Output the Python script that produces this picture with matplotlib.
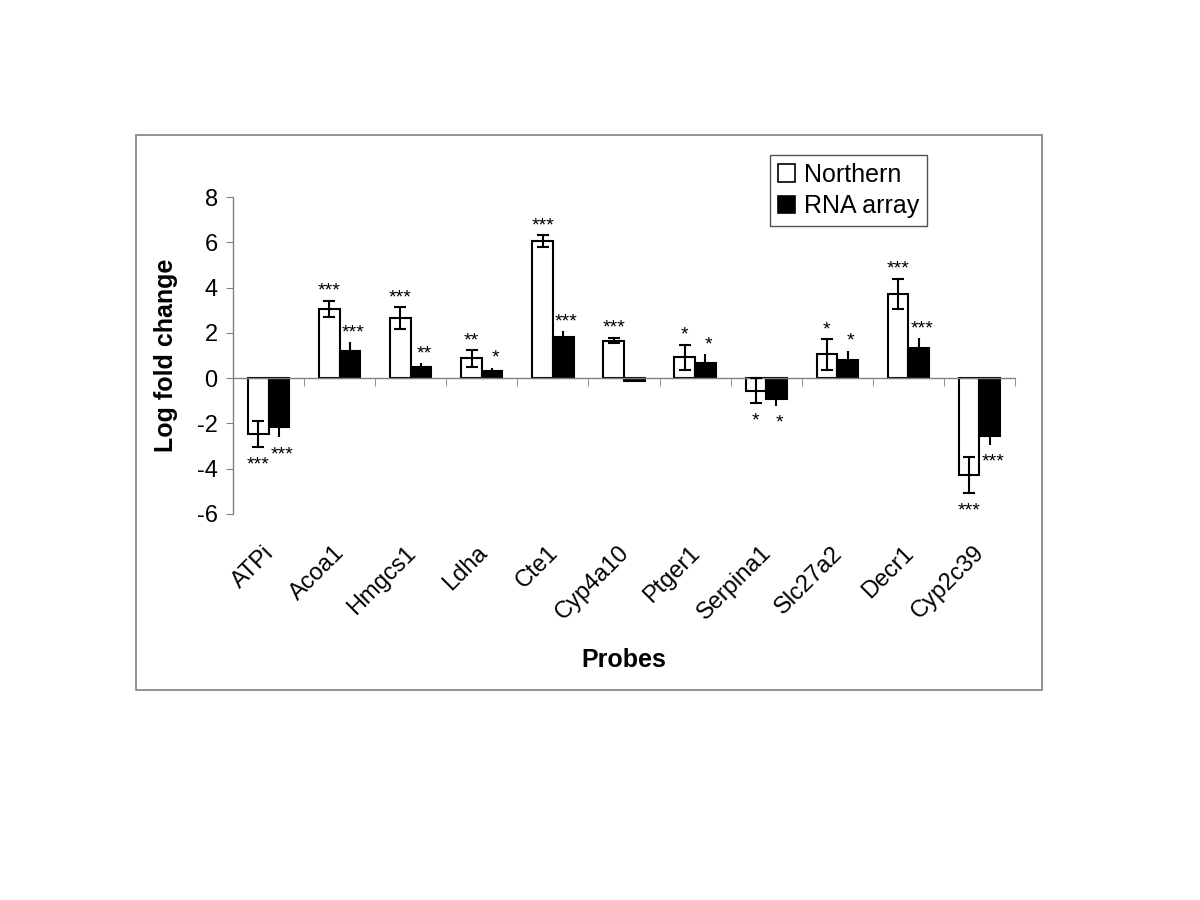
import matplotlib.pyplot as plt
import numpy as np
from matplotlib.patches import Rectangle, Patch

plt.rcParams['font.family'] = ['Liberation Sans', 'DejaVu Sans']
plt.rcParams['axes.unicode_minus'] = False

# Probe names and log fold changes
probes = ['ATPi', 'Acoa1', 'Hmgcs1', 'Ldha', 'Cte1', 'Cyp4a10', 'Ptger1',
          'Serpina1', 'Slc27a2', 'Decr1', 'Cyp2c39']
northern = [-2.48, 3.05, 2.65, 0.87, 6.05, 1.66, 0.93, -0.56, 1.05, 3.72, -4.28]
northern_err = [0.57, 0.37, 0.48, 0.37, 0.25, 0.12, 0.55, 0.55, 0.68, 0.66, 0.80]
rna = [-2.15, 1.22, 0.50, 0.31, 1.80, -0.12, 0.66, -0.92, 0.78, 1.32, -2.57]
rna_err = [0.45, 0.37, 0.17, 0.15, 0.26, 0.05, 0.40, 0.30, 0.44, 0.44, 0.38]
northern_sig = ['***', '***', '***', '**', '***', '***', '*', '*', '*', '***', '***']
rna_sig = ['***', '***', '**', '*', '***', '', '*', '*', '*', '***', '***']

x = np.arange(len(probes))
width = 0.29
grey = '#808080'

fig = plt.figure(figsize=(12, 9), dpi=100)
ax = fig.add_axes([233/1200, 1 - 514/900, (1015 - 233)/1200, (514 - 197)/900])

# outer chart frame
fig.patches.append(Rectangle((136/1200, 1 - 690/900), (1042 - 136)/1200, (690 - 135)/900,
                             transform=fig.transFigure, fill=False,
                             edgecolor=grey, linewidth=1.2))

ax.bar(x - width/2, northern, width, color='white', edgecolor='black', linewidth=1.5, zorder=2)
ax.bar(x + width/2, rna, width, color='black', edgecolor='black', linewidth=1.5, zorder=2)

# Northern: two-sided with caps
ax.errorbar(x - width/2, northern, yerr=northern_err, fmt='none', ecolor='black',
            elinewidth=1.5, capsize=4.5, capthick=1.5, zorder=3)

# RNA array: outward only, no caps
rna_arr = np.array(rna)
rna_e = np.array(rna_err)
lower = np.where(rna_arr < 0, rna_e, 0)
upper = np.where(rna_arr >= 0, rna_e, 0)
ax.errorbar(x + width/2, rna, yerr=[lower, upper], fmt='none', ecolor='black',
            elinewidth=1.5, capsize=0, zorder=1)

# significance stars
def stars(xpos, vals, errs, sigs, dx):
    for xi, v, e, s in zip(xpos, vals, errs, sigs):
        if not s:
            continue
        if v >= 0:
            ax.annotate(s, xy=(xi, v + e), xytext=(dx, 5), textcoords='offset pixels',
                        ha='center', va='baseline', fontsize=14)
        else:
            ax.annotate(s, xy=(xi, v - e), xytext=(dx, -22), textcoords='offset pixels',
                        ha='center', va='baseline', fontsize=14)

stars(x - width/2, northern, northern_err, northern_sig, 0)
stars(x + width/2, rna, rna_err, rna_sig, 3)

ax.set_xlim(-0.5, len(probes) - 0.5)
ax.set_ylim(-6, 8)
ax.set_yticks(np.arange(-6, 9, 2))
ax.tick_params(axis='y', labelsize=17, length=5, color=grey, pad=6)

for side in ['top', 'right']:
    ax.spines[side].set_visible(False)
ax.spines['left'].set_color(grey)
ax.spines['bottom'].set_color(grey)
ax.spines['bottom'].set_position(('data', 0))
ax.spines['left'].set_linewidth(1)
ax.spines['bottom'].set_linewidth(1)

ax.set_xticks(np.arange(-0.5, len(probes), 1), minor=True)
ax.set_xticks([])
ax.tick_params(axis='x', which='minor', length=6, color=grey, direction='out')

# category labels below the plot area
for xi, name in zip(x, probes):
    ax.annotate(name, xy=(xi, 0), xycoords=('data', 'axes fraction'),
                xytext=(-6, -28), textcoords='offset pixels',
                rotation=45, rotation_mode='anchor', ha='right', va='top', fontsize=17)

ax.text(0.5, (514 - 660)/317, 'Probes', transform=ax.transAxes, ha='center', va='center',
        fontsize=18, fontweight='bold')
fig.text(166/1200, 1 - 355/900, 'Log fold change', rotation=90, ha='center', va='center',
         fontsize=18, fontweight='bold')

handles = [Patch(facecolor='white', edgecolor='black', linewidth=1.2),
           Patch(facecolor='black', edgecolor='black', linewidth=1.2)]
leg = ax.legend(handles, ['Northern', 'RNA array'], loc='upper left',
                bbox_to_anchor=(770/1200, 1 - 155/900), bbox_transform=fig.transFigure,
                borderaxespad=0, fancybox=False, framealpha=1, edgecolor='#505050',
                fontsize=18, handlelength=0.7, handleheight=0.7, handletextpad=0.35,
                labelspacing=0.3, borderpad=0.3)
leg.get_frame().set_linewidth(1)

fig.savefig('out.png', dpi=100)
